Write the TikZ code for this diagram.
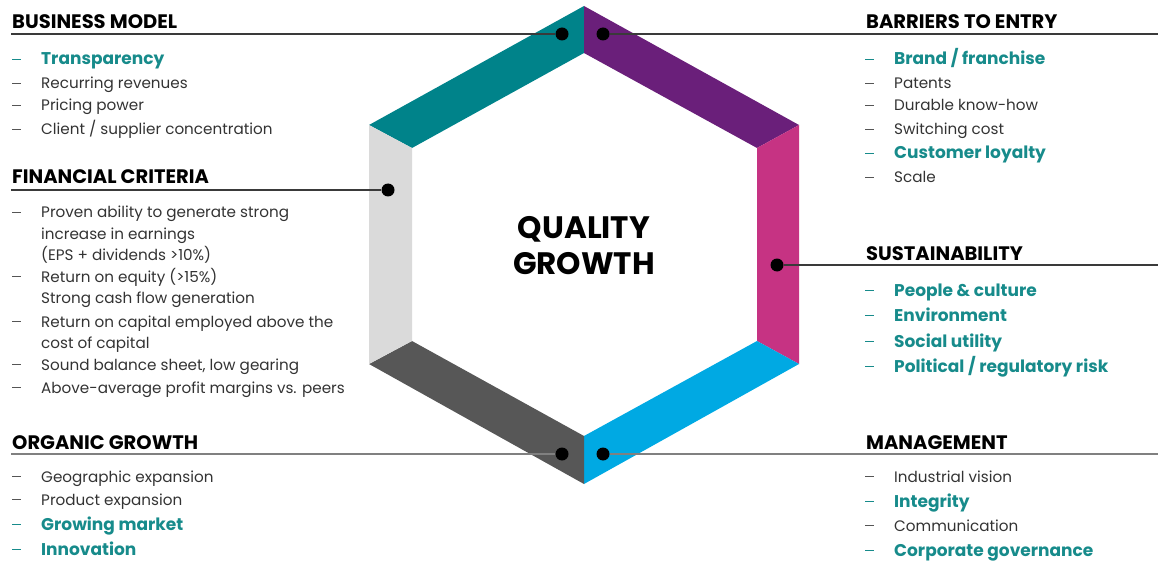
\documentclass[tikz,border=0pt]{standalone}
\usepackage{fontspec}
\setmainfont{Poppins}
\definecolor{segteal}{HTML}{00838A}
\definecolor{segpurple}{HTML}{6A1F7A}
\definecolor{segmagenta}{HTML}{C63383}
\definecolor{segcyan}{HTML}{00A9E3}
\definecolor{segdark}{HTML}{575757}
\definecolor{seglight}{HTML}{DADADA}
\definecolor{tealtext}{HTML}{178B8B}
\definecolor{bodygray}{HTML}{333333}
\definecolor{dashgray}{HTML}{555555}
\definecolor{linedark}{HTML}{3A3A3A}
\definecolor{linegray}{HTML}{808080}
\newcommand{\dsh}[1]{\makebox[29pt][l]{\textcolor{#1}{\rule[5.5pt]{9pt}{0.9pt}}}}
\begin{document}
\begin{tikzpicture}[x=1pt,y=-1pt,
  head/.style={anchor=base west, inner sep=0pt, font=\fontsize{19.5}{21}\selectfont\bfseries, text=black},
  item/.style={anchor=base west, inner sep=0pt, font=\fontsize{15.2}{17}\selectfont, text=bodygray},
  hitem/.style={anchor=base west, inner sep=0pt, font=\fontsize{17}{19}\selectfont\bfseries, text=tealtext},
  dot/.style={circle, fill=black, inner sep=0pt, minimum size=13pt},
  conndark/.style={draw=linedark, line width=1.2pt},
  conngray/.style={draw=linegray, line width=1.4pt},
  centre/.style={font=\fontsize{31}{36}\selectfont\bfseries, align=center, inner sep=0pt}
]
\useasboundingbox (0,0) rectangle (1158,561);
% hexagon
\coordinate (oT) at (584,6);
\coordinate (oUR) at (799,125);
\coordinate (oLR) at (799,364);
\coordinate (oB) at (584,484);
\coordinate (oLL) at (369,364);
\coordinate (oUL) at (369,125);
\coordinate (iT) at (584,53);
\coordinate (iUR) at (757,148);
\coordinate (iLR) at (757,341);
\coordinate (iB) at (584,436);
\coordinate (iLL) at (412,341);
\coordinate (iUL) at (412,148);
\fill[segteal] (oT) -- (oUL) -- (iUL) -- (iT) -- cycle;
\fill[segpurple] (oT) -- (oUR) -- (iUR) -- (iT) -- cycle;
\fill[segmagenta] (oUR) -- (oLR) -- (iLR) -- (iUR) -- cycle;
\fill[segcyan] (oLR) -- (oB) -- (iB) -- (iLR) -- cycle;
\fill[segdark] (oB) -- (oLL) -- (iLL) -- (iB) -- cycle;
\fill[seglight] (oLL) -- (oUL) -- (iUL) -- (iLL) -- cycle;
% centre
\node[centre] (qg) at (584,246) {QUALITY\\GROWTH};
% dots
\node[dot] (dBM) at (562,34) {};
\node[dot] (dBE) at (603,34) {};
\node[dot] (dFC) at (388,190) {};
\node[dot] (dSU) at (777,265) {};
\node[dot] (dOG) at (562,454) {};
\node[dot] (dMA) at (603,454) {};
% line ends
\coordinate (eBM) at (11,34);
\coordinate (eBE) at (1158,34);
\coordinate (eFC) at (11,190);
\coordinate (eSU) at (1158,265);
\coordinate (eOG) at (11,454);
\coordinate (eMA) at (1158,454);
\draw[conndark] (eBM) -- (dBM);
\draw[conndark] (eBE) -- (dBE);
\draw[conndark] (eFC) -- (dFC);
\draw[conndark] (eSU) -- (dSU);
\draw[conngray] (eOG) -- (dOG);
\draw[conngray] (eMA) -- (dMA);
% Business model
\node[head] (hBM) at (12,29) {BUSINESS MODEL};
\node[hitem] (bm1) at (12,65) {\dsh{tealtext}Transparency};
\node[item] (bm2) at (12,89) {\dsh{dashgray}Recurring revenues};
\node[item] (bm3) at (12,111) {\dsh{dashgray}Pricing power};
\node[item] (bm4) at (12,135) {\dsh{dashgray}Client / supplier concentration};
% Financial criteria
\node[head] (hFC) at (12,184) {FINANCIAL CRITERIA};
\node[item] (fc1) at (12,218) {\dsh{dashgray}Proven ability to generate strong};
\node[item] (fc1b) at (41,240) {increase in earnings};
\node[item] (fc1c) at (41,260) {(EPS + dividends >10\%)};
\node[item] (fc2) at (12,282) {\dsh{dashgray}Return on equity (>15\%)};
\node[item] (fc2b) at (41,303) {Strong cash flow generation};
\node[item] (fc3) at (12,327) {\dsh{dashgray}Return on capital employed above the};
\node[item] (fc3b) at (41,348) {cost of capital};
\node[item] (fc4) at (12,370) {\dsh{dashgray}Sound balance sheet, low gearing};
\node[item] (fc5) at (12,393) {\dsh{dashgray}Above-average profit margins vs. peers};
% Organic growth
\node[head] (hOG) at (12,449) {ORGANIC GROWTH};
\node[item] (og1) at (12,482) {\dsh{dashgray}Geographic expansion};
\node[item] (og2) at (12,505) {\dsh{dashgray}Product expansion};
\node[hitem] (og3) at (12,530) {\dsh{tealtext}Growing market};
\node[hitem] (og4) at (12,555) {\dsh{tealtext}Innovation};
% Barriers to entry
\node[head] (hBE) at (866,29) {BARRIERS TO ENTRY};
\node[hitem] (be1) at (865,65) {\dsh{tealtext}Brand / franchise};
\node[item] (be2) at (865,89) {\dsh{dashgray}Patents};
\node[item] (be3) at (865,111) {\dsh{dashgray}Durable know-how};
\node[item] (be4) at (865,135) {\dsh{dashgray}Switching cost};
\node[hitem] (be5) at (865,159) {\dsh{tealtext}Customer loyalty};
\node[item] (be6) at (865,183) {\dsh{dashgray}Scale};
% Sustainability
\node[head] (hSU) at (866,260) {SUSTAINABILITY};
\node[hitem] (su1) at (865,296) {\dsh{tealtext}People \& culture};
\node[hitem] (su2) at (865,321) {\dsh{tealtext}Environment};
\node[hitem] (su3) at (865,347) {\dsh{tealtext}Social utility};
\node[hitem] (su4) at (865,372) {\dsh{tealtext}Political / regulatory risk};
% Management
\node[head] (hMA) at (866,449) {MANAGEMENT};
\node[item] (ma1) at (865,482) {\dsh{dashgray}Industrial vision};
\node[hitem] (ma2) at (865,507) {\dsh{tealtext}Integrity};
\node[item] (ma3) at (865,531) {\dsh{dashgray}Communication};
\node[hitem] (ma4) at (865,556) {\dsh{tealtext}Corporate governance};
\end{tikzpicture}
\end{document}
